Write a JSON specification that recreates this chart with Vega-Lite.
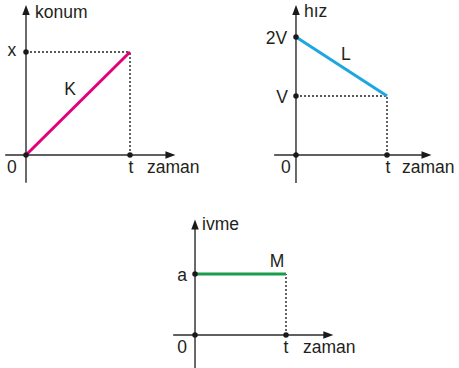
{
  "$schema": "https://vega.github.io/schema/vega-lite/v6.json",
  "padding": 0,
  "background": "white",
  "spacing": 0,
  "config": {
    "view": {"stroke": null},
    "text": {"font": "Liberation Sans", "fontSize": 17.5, "color": "#231f20", "baseline": "middle"}
  },
  "datasets": {
    "p1_axes": [{"x": -0.2, "y": 0, "x2": 1.39, "y2": 0}, {"x": 0, "y": -0.27, "x2": 0, "y2": 1.41}],
    "p1_arrows": [{"x": 0, "y": 1.408, "dir": "up"}, {"x": 1.389, "y": 0, "dir": "right"}],
    "p1_guides": [{"x": 0, "y": 1, "x2": 1, "y2": 1}, {"x": 1, "y": 0, "x2": 1, "y2": 1}],
    "p1_line": [{"x": 0, "y": 0}, {"x": 1, "y": 1}],
    "p1_dots": [{"x": 0, "y": 0}, {"x": 1, "y": 0}, {"x": 0, "y": 1}],
    "p1_labels": [{"x": -0.135, "y": 1.01, "label": "x"}, {"x": 0.423, "y": 0.631, "label": "K"}, {"x": -0.135, "y": -0.126, "label": "0"}, {"x": 1.01, "y": -0.126, "label": "t"}],
    "p1_titles": [{"x": 0.087, "y": 1.379, "label": "konum"}, {"x": 1.163, "y": -0.126, "label": "zaman"}],
    "p2_axes": [{"x": -0.24, "y": 0, "x2": 1.43, "y2": 0}, {"x": 0, "y": -0.475, "x2": 0, "y2": 2.45}],
    "p2_arrows": [{"x": 0, "y": 2.458, "dir": "up"}, {"x": 1.434, "y": 0, "dir": "right"}],
    "p2_guides": [{"x": 0, "y": 1, "x2": 1, "y2": 1}, {"x": 1, "y": 0, "x2": 1, "y2": 1}],
    "p2_line": [{"x": 0, "y": 2}, {"x": 1, "y": 1}],
    "p2_dots": [{"x": 0, "y": 0}, {"x": 1, "y": 0}, {"x": 0, "y": 1}, {"x": 0, "y": 2}],
    "p2_labels": [{"x": -0.214, "y": 1.966, "label": "2V"}, {"x": -0.154, "y": 0.966, "label": "V"}, {"x": 0.549, "y": 1.695, "label": "L"}, {"x": -0.11, "y": -0.22, "label": "0"}, {"x": 1.01, "y": -0.22, "label": "t"}],
    "p2_titles": [{"x": 0.088, "y": 2.42, "label": "hız"}, {"x": 1.165, "y": -0.22, "label": "zaman"}],
    "p3_axes": [{"x": -0.24, "y": 0, "x2": 1.46, "y2": 0}, {"x": 0, "y": -0.54, "x2": 0, "y2": 1.8}],
    "p3_arrows": [{"x": 0, "y": 1.81, "dir": "up"}, {"x": 1.465, "y": 0, "dir": "right"}],
    "p3_guides": [{"x": 1, "y": 0, "x2": 1, "y2": 1}],
    "p3_line": [{"x": 0, "y": 1}, {"x": 1, "y": 1}],
    "p3_dots": [{"x": 0, "y": 0}, {"x": 1, "y": 0}, {"x": 0, "y": 1}],
    "p3_labels": [{"x": -0.143, "y": 0.967, "label": "a"}, {"x": 0.901, "y": 1.197, "label": "M"}, {"x": -0.143, "y": -0.213, "label": "0"}, {"x": 1.0, "y": -0.213, "label": "t"}],
    "p3_titles": [{"x": 0.077, "y": 1.803, "label": "ivme"}, {"x": 1.187, "y": -0.213, "label": "zaman"}]
  },
  "vconcat": [
    {
      "spacing": 0,
      "hconcat": [
        {
          "width": 229,
          "height": 185,
          "encoding": {
            "x": {"field": "x", "type": "quantitative", "scale": {"domain": [-0.25, 1.952], "nice": false, "zero": false}, "axis": null},
            "y": {"field": "y", "type": "quantitative", "scale": {"domain": [-0.291, 1.505], "nice": false, "zero": false}, "axis": null}
          },
          "layer": [
            {"data": {"name": "p1_guides"}, "mark": {"type": "rule", "color": "#222222", "strokeWidth": 1.4, "strokeDash": [2, 2]}, "encoding": {"x2": {"field": "x2"}, "y2": {"field": "y2"}}},
            {"data": {"name": "p1_axes"}, "mark": {"type": "rule", "color": "#2b2b2b", "strokeWidth": 1.4}, "encoding": {"x2": {"field": "x2"}, "y2": {"field": "y2"}}},
            {"data": {"name": "p1_arrows"}, "transform": [{"filter": "datum.dir == 'up'"}], "mark": {"type": "point", "shape": "M-0.75,1L0.75,1L0,-1Z", "filled": true, "color": "#1a1a1a", "size": 100, "opacity": 1}},
            {"data": {"name": "p1_arrows"}, "transform": [{"filter": "datum.dir == 'right'"}], "mark": {"type": "point", "shape": "M-1,-0.75L-1,0.75L1,0Z", "filled": true, "color": "#1a1a1a", "size": 100, "opacity": 1}},
            {"data": {"name": "p1_line"}, "mark": {"type": "line", "color": "#e4007c", "strokeWidth": 3}},
            {"data": {"name": "p1_dots"}, "mark": {"type": "point", "shape": "circle", "filled": true, "color": "#1a1a1a", "size": 30, "opacity": 1}},
            {"data": {"name": "p1_labels"}, "mark": {"type": "text", "align": "center"}, "encoding": {"text": {"field": "label"}}},
            {"data": {"name": "p1_titles"}, "mark": {"type": "text", "align": "left"}, "encoding": {"text": {"field": "label"}}}
          ]
        },
        {
          "width": 230,
          "height": 185,
          "encoding": {
            "x": {"field": "x", "type": "quantitative", "scale": {"domain": [-0.736, 1.791], "nice": false, "zero": false}, "axis": null},
            "y": {"field": "y", "type": "quantitative", "scale": {"domain": [-0.508, 2.627], "nice": false, "zero": false}, "axis": null}
          },
          "layer": [
            {"data": {"name": "p2_guides"}, "mark": {"type": "rule", "color": "#222222", "strokeWidth": 1.4, "strokeDash": [2, 2]}, "encoding": {"x2": {"field": "x2"}, "y2": {"field": "y2"}}},
            {"data": {"name": "p2_axes"}, "mark": {"type": "rule", "color": "#2b2b2b", "strokeWidth": 1.4}, "encoding": {"x2": {"field": "x2"}, "y2": {"field": "y2"}}},
            {"data": {"name": "p2_arrows"}, "transform": [{"filter": "datum.dir == 'up'"}], "mark": {"type": "point", "shape": "M-0.75,1L0.75,1L0,-1Z", "filled": true, "color": "#1a1a1a", "size": 100, "opacity": 1}},
            {"data": {"name": "p2_arrows"}, "transform": [{"filter": "datum.dir == 'right'"}], "mark": {"type": "point", "shape": "M-1,-0.75L-1,0.75L1,0Z", "filled": true, "color": "#1a1a1a", "size": 100, "opacity": 1}},
            {"data": {"name": "p2_line"}, "mark": {"type": "line", "color": "#1ea6e0", "strokeWidth": 3}},
            {"data": {"name": "p2_dots"}, "mark": {"type": "point", "shape": "circle", "filled": true, "color": "#1a1a1a", "size": 30, "opacity": 1}},
            {"data": {"name": "p2_labels"}, "mark": {"type": "text", "align": "center"}, "encoding": {"text": {"field": "label"}}},
            {"data": {"name": "p2_titles"}, "mark": {"type": "text", "align": "left"}, "encoding": {"text": {"field": "label"}}}
          ]
        }
      ]
    },
    {
      "width": 459,
      "height": 183,
      "encoding": {
        "x": {"field": "x", "type": "quantitative", "scale": {"domain": [-2.143, 2.901], "nice": false, "zero": false}, "axis": null},
        "y": {"field": "y", "type": "quantitative", "scale": {"domain": [-0.541, 2.459], "nice": false, "zero": false}, "axis": null}
      },
      "layer": [
        {"data": {"name": "p3_guides"}, "mark": {"type": "rule", "color": "#222222", "strokeWidth": 1.4, "strokeDash": [2, 2]}, "encoding": {"x2": {"field": "x2"}, "y2": {"field": "y2"}}},
        {"data": {"name": "p3_axes"}, "mark": {"type": "rule", "color": "#2b2b2b", "strokeWidth": 1.4}, "encoding": {"x2": {"field": "x2"}, "y2": {"field": "y2"}}},
        {"data": {"name": "p3_arrows"}, "transform": [{"filter": "datum.dir == 'up'"}], "mark": {"type": "point", "shape": "M-0.75,1L0.75,1L0,-1Z", "filled": true, "color": "#1a1a1a", "size": 100, "opacity": 1}},
        {"data": {"name": "p3_arrows"}, "transform": [{"filter": "datum.dir == 'right'"}], "mark": {"type": "point", "shape": "M-1,-0.75L-1,0.75L1,0Z", "filled": true, "color": "#1a1a1a", "size": 100, "opacity": 1}},
        {"data": {"name": "p3_line"}, "mark": {"type": "line", "color": "#1a9c4b", "strokeWidth": 3}},
        {"data": {"name": "p3_dots"}, "mark": {"type": "point", "shape": "circle", "filled": true, "color": "#1a1a1a", "size": 30, "opacity": 1}},
        {"data": {"name": "p3_labels"}, "mark": {"type": "text", "align": "center"}, "encoding": {"text": {"field": "label"}}},
        {"data": {"name": "p3_titles"}, "mark": {"type": "text", "align": "left"}, "encoding": {"text": {"field": "label"}}}
      ]
    }
  ]
}
